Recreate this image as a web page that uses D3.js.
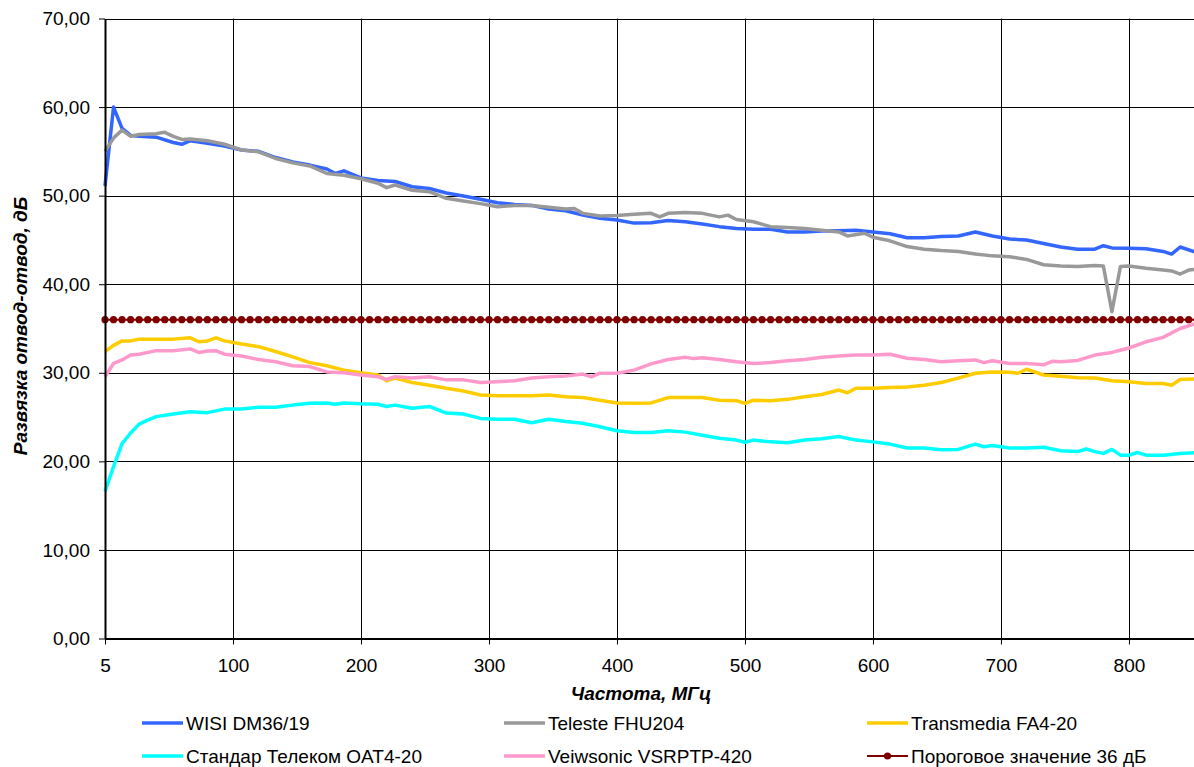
<!DOCTYPE html>
<html>
<head>
<meta charset="utf-8">
<script src="https://cdn.jsdelivr.net/npm/d3@7"></script>
<style>
    body { margin: 0; background: #fff; }
    svg { display: block; font-family: "Liberation Sans", Arial, sans-serif; }
    .tick text { font-size: 19px; fill: #000; }
    .axis-title { font-size: 19px; font-weight: bold; font-style: italic; }
    .legend-label { font-size: 19px; }
</style>
</head>
<body>
<div class="canvas"></div>
<script>
// categories (measurement points), x tick labels
const categoryCount = 128;
const xTickIdx = [0, 15, 30, 45, 60, 75, 90, 105, 120];
const xTickLabels = ['5', '100', '200', '300', '400', '500', '600', '700', '800'];
const yTicks = [0, 10, 20, 30, 40, 50, 60, 70];

// series: [category index, dB]
const wisi = [[0,51.1],[1,60.0],[2,57.6],[3,56.8],[4,56.7],[6,56.6],[8,56.0],[9,55.8],[10,56.2],[12,55.9],[14,55.6],[16,55.15],[18,55.0],[20,54.3],[22,53.8],[24,53.45],[26,53.0],[27,52.5],[28,52.8],[30,52.0],[32,51.7],[34,51.6],[36,51.0],[38,50.8],[40,50.3],[42,49.95],[44,49.6],[46,49.2],[48,49.0],[50,48.9],[52,48.5],[54,48.3],[56,47.8],[58,47.45],[60,47.25],[62,46.9],[64,46.95],[66,47.2],[68,47.05],[70,46.8],[72,46.5],[74,46.3],[76,46.2],[78,46.2],[80,45.9],[82,45.9],[84,46.0],[86,46.05],[88,46.1],[90,45.9],[92,45.7],[94,45.25],[96,45.25],[98,45.4],[100,45.45],[102,45.9],[104,45.45],[106,45.1],[108,45.0],[110,44.6],[112,44.2],[114,43.95],[116,43.95],[117,44.35],[118,44.1],[120,44.05],[122,44.0],[124,43.7],[125,43.4],[126,44.2],[128,43.55]];
const teleste = [[0,55.0],[1,56.5],[2,57.4],[3,56.7],[4,56.9],[6,57.0],[7,57.15],[8,56.7],[9,56.35],[10,56.4],[12,56.2],[14,55.8],[16,55.15],[18,54.95],[20,54.2],[22,53.7],[24,53.35],[26,52.5],[28,52.3],[30,51.9],[32,51.4],[33,50.9],[34,51.2],[36,50.6],[38,50.45],[40,49.7],[42,49.4],[44,49.1],[46,48.75],[48,48.9],[50,48.9],[52,48.7],[54,48.5],[55,48.55],[56,48.0],[58,47.7],[60,47.75],[62,47.9],[64,48.0],[65,47.6],[66,48.0],[68,48.1],[70,48.0],[72,47.6],[73,47.8],[74,47.3],[76,47.05],[78,46.5],[80,46.4],[82,46.3],[84,46.1],[86,45.9],[87,45.45],[89,45.75],[90,45.3],[92,44.9],[94,44.25],[96,43.95],[98,43.8],[100,43.7],[102,43.4],[104,43.2],[106,43.1],[108,42.8],[110,42.2],[112,42.05],[114,42.0],[116,42.1],[117,42.05],[118,36.9],[119,42.0],[120,42.05],[122,41.8],[124,41.6],[125,41.5],[126,41.15],[127,41.6],[128,41.7]];
const transmedia = [[0,32.4],[1,33.1],[2,33.6],[3,33.6],[4,33.8],[6,33.8],[8,33.8],[10,33.95],[11,33.5],[12,33.6],[13,33.95],[14,33.6],[16,33.25],[18,32.95],[20,32.4],[22,31.8],[24,31.15],[26,30.8],[28,30.3],[30,30.0],[32,29.75],[33,29.1],[34,29.4],[36,28.9],[38,28.6],[40,28.25],[42,27.95],[44,27.5],[46,27.4],[48,27.4],[50,27.4],[52,27.5],[54,27.3],[56,27.2],[58,26.9],[60,26.6],[62,26.55],[64,26.6],[66,27.2],[68,27.2],[70,27.2],[72,26.9],[74,26.85],[75,26.55],[76,26.9],[78,26.85],[80,27.0],[82,27.3],[84,27.55],[86,28.05],[87,27.75],[88,28.25],[90,28.25],[92,28.35],[94,28.4],[96,28.6],[98,28.9],[100,29.4],[102,29.95],[104,30.1],[106,30.05],[107,29.95],[108,30.4],[110,29.75],[112,29.6],[114,29.45],[116,29.4],[118,29.1],[120,29.0],[122,28.8],[124,28.8],[125,28.6],[126,29.25],[128,29.3]];
const standard = [[0,16.6],[1,19.4],[2,22.0],[3,23.2],[4,24.2],[5,24.65],[6,25.05],[8,25.35],[10,25.6],[12,25.5],[14,25.9],[16,25.9],[18,26.1],[20,26.1],[22,26.35],[24,26.55],[26,26.6],[27,26.45],[28,26.6],[30,26.5],[32,26.45],[33,26.2],[34,26.35],[36,26.0],[38,26.2],[40,25.45],[42,25.35],[44,24.85],[46,24.75],[48,24.75],[50,24.35],[52,24.75],[54,24.5],[56,24.3],[58,23.9],[60,23.45],[62,23.25],[64,23.25],[66,23.45],[68,23.3],[70,22.95],[72,22.6],[74,22.4],[75,22.15],[76,22.4],[78,22.2],[80,22.1],[82,22.4],[84,22.55],[86,22.8],[88,22.4],[90,22.2],[92,21.95],[94,21.5],[96,21.5],[98,21.3],[100,21.35],[102,21.95],[103,21.65],[104,21.8],[106,21.5],[108,21.5],[110,21.6],[112,21.2],[114,21.1],[115,21.4],[116,21.1],[117,20.9],[118,21.35],[119,20.7],[120,20.7],[121,21.0],[122,20.7],[124,20.7],[126,20.9],[128,21.0]];
const veiwsonic = [[0,29.55],[1,31.05],[2,31.45],[3,32.0],[4,32.1],[6,32.5],[8,32.5],[10,32.7],[11,32.3],[12,32.45],[13,32.5],[14,32.1],[16,31.9],[18,31.5],[20,31.25],[22,30.8],[24,30.7],[26,30.1],[28,30.0],[30,29.75],[32,29.55],[33,29.25],[34,29.55],[36,29.4],[38,29.55],[40,29.2],[42,29.2],[44,28.9],[46,29.0],[48,29.1],[50,29.4],[52,29.55],[54,29.65],[56,29.85],[57,29.55],[58,29.95],[60,29.95],[62,30.3],[64,31.0],[66,31.5],[68,31.75],[69,31.6],[70,31.7],[72,31.5],[74,31.25],[76,31.05],[78,31.15],[80,31.35],[82,31.5],[84,31.75],[86,31.9],[88,32.0],[90,32.0],[92,32.1],[94,31.65],[96,31.5],[98,31.25],[100,31.35],[102,31.45],[103,31.15],[104,31.35],[106,31.05],[108,31.05],[110,30.9],[111,31.3],[112,31.25],[114,31.4],[116,32.0],[118,32.3],[120,32.8],[122,33.5],[124,34.0],[126,35.0],[128,35.6]];
const thresholdDb = 36;

const seriesNames = ['WISI DM36/19', 'Teleste FHU204', 'Transmedia FA4-20', 'Стандар Телеком OAT4-20', 'Veiwsonic VSRPTP-420', 'Пороговое значение 36 дБ'];
const seriesColors = ['#3366ff', '#999999', '#ffcc00', '#00ffff', '#ff99cc', '#800000'];
const seriesData = [wisi, teleste, transmedia, standard, veiwsonic];

const width = 1194, height = 767;
const plotL = 105, plotT = 18.5, plotB = 638.5, catStep = 8.533;

const svg = d3.select('.canvas')
    .append('svg')
    .attr('width', width)
    .attr('height', height)
    ;

const xScale = d3.scaleLinear()
    .domain([0, 128])
    .range([plotL, plotL + 128 * catStep])
    ;

const yScale = d3.scaleLinear()
    .domain([0, 70])
    .range([plotB, plotT])
    ;

//Add grid
svg.append('g')
    .selectAll('line')
    .data(yTicks.filter(d => d > 0))
    .enter()
    .append('line')
    .attr('x1', plotL)
    .attr('x2', width)
    .attr('y1', d => Math.round(yScale(d)) + 0.5)
    .attr('y2', d => Math.round(yScale(d)) + 0.5)
    .attr('stroke', '#000')
    .attr('stroke-width', 1)
    ;

svg.append('g')
    .selectAll('line')
    .data(xTickIdx.filter(d => d > 0))
    .enter()
    .append('line')
    .attr('x1', d => Math.round(xScale(d)) + 0.5)
    .attr('x2', d => Math.round(xScale(d)) + 0.5)
    .attr('y1', plotT)
    .attr('y2', plotB)
    .attr('stroke', '#000')
    .attr('stroke-width', 1)
    ;

//Add lines
const line = d3.line()
    .x(d => xScale(d[0]))
    .y(d => yScale(d[1]))
    ;

// threshold first, then the measured series
svg.append('path')
    .datum(d3.range(categoryCount + 1).map(i => [i, thresholdDb]))
    .attr('d', line)
    .attr('fill', 'none')
    .attr('stroke', seriesColors[5])
    .attr('stroke-width', 2)
    ;
svg.append('g')
    .selectAll('circle')
    .data(d3.range(categoryCount + 1))
    .enter()
    .append('circle')
    .attr('cx', d => xScale(d))
    .attr('cy', yScale(thresholdDb))
    .attr('r', 3.6)
    .attr('fill', seriesColors[5])
    ;

svg.append('g')
    .selectAll('path')
    .data(seriesData)
    .enter()
    .append('path')
    .attr('d', line)
    .attr('fill', 'none')
    .attr('stroke', (d, i) => seriesColors[i])
    .attr('stroke-width', 3.5)
    .attr('stroke-linejoin', 'round')
    ;

//Add y-axis
const yAxis = d3.axisLeft(yScale)
    .tickValues(yTicks)
    .tickSize(6)
    .tickSizeOuter(0)
    .tickPadding(9)
    .tickFormat(d => d3.format('.2f')(d).replace('.', ','));
svg.append('g')
    .attr('transform', `translate(${plotL}, 0)`)
    .call(yAxis)
    .call(g => g.select('.domain').attr('stroke-width', 2))
    .call(g => g.selectAll('.tick text').attr('font-family', null).attr('font-size', null))
    ;

//Add x-axis
const xAxis = d3.axisBottom(xScale)
    .tickValues(xTickIdx)
    .tickSize(6)
    .tickSizeOuter(0)
    .tickPadding(14)
    .tickFormat((d, i) => xTickLabels[i]);
svg.append('g')
    .attr('transform', `translate(0, ${plotB})`)
    .call(xAxis)
    .call(g => g.select('.domain').attr('stroke-width', 2))
    .call(g => g.selectAll('.tick text').attr('font-family', null).attr('font-size', null))
    ;

//Add axis titles
svg.append('text')
    .attr('class', 'axis-title')
    .attr('x', 641)
    .attr('y', 700)
    .attr('text-anchor', 'middle')
    .text('Частота, МГц');

svg.append('text')
    .attr('class', 'axis-title')
    .attr('transform', 'translate(27, 326) rotate(-90)')
    .attr('text-anchor', 'middle')
    .text('Развязка отвод-отвод, дБ');

//Add legend
const legendX = [186, 548, 911], legendY = [723, 756];
const legend = svg.append('g')
    .selectAll('g')
    .data(seriesNames)
    .enter()
    .append('g')
    .attr('transform', (d, i) => `translate(${legendX[i % 3]}, ${legendY[Math.floor(i / 3)]})`)
    ;
legend.append('line')
    .attr('x1', -44)
    .attr('x2', -3)
    .attr('stroke', (d, i) => seriesColors[i])
    .attr('stroke-width', (d, i) => i === 5 ? 2 : 3.5)
    ;
legend.filter((d, i) => i === 5)
    .append('circle')
    .attr('cx', -23.5)
    .attr('r', 3.6)
    .attr('fill', seriesColors[5])
    ;
legend.append('text')
    .attr('class', 'legend-label')
    .attr('x', 0)
    .attr('dy', '0.35em')
    .text(d => d);
</script>
</body>
</html>
